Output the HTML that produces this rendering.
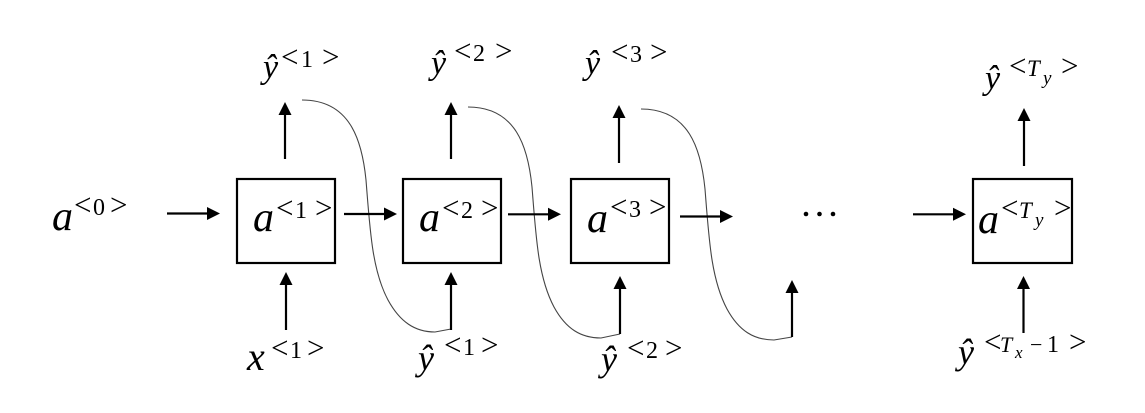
<!DOCTYPE html>
<html>
<head>
<meta charset="utf-8">
<style>
  html, body { margin: 0; padding: 0; background: #ffffff; }
  body { width: 1145px; height: 413px; overflow: hidden; }
  svg { display: block; }
  .v { font-family: "Liberation Serif", serif; font-style: italic; fill: #000; }
  .s { font-family: "Liberation Serif", serif; font-style: normal; fill: #000; }
  .lt { font-family: "Liberation Serif", serif; font-style: normal; fill: #000; font-size: 31px; }
</style>
</head>
<body>
<svg width="1145" height="413" viewBox="0 0 1145 413" xmlns="http://www.w3.org/2000/svg">
  <rect x="0" y="0" width="1145" height="413" fill="#ffffff"/>

  <!-- Boxes -->
  <g fill="none" stroke="#000" stroke-width="2.2">
    <rect x="237" y="179" width="98" height="84"/>
    <rect x="403" y="179" width="98" height="84"/>
    <rect x="571" y="179" width="98" height="84"/>
    <rect x="973" y="179" width="99" height="84"/>
  </g>

  <!-- Curves -->
  <g fill="none" stroke="#444" stroke-width="1.1">
    <path d="M302,100 C350,100 362,140 366,180 C370,230 372,270 388,300 C400,322 415,332 435,332 L451,329"/>
    <path d="M468,107 C516,107 528,147 532,187 C536,237 538,277 554,307 C566,329 581,338 601,338 L620,334"/>
    <path d="M641,109 C689,109 701,149 705,189 C709,239 711,279 727,309 C739,331 754,340 774,340 L792,337"/>
  </g>

  <!-- Arrow lines -->
  <g stroke="#000" stroke-width="2.2" fill="none">
    <line x1="167" y1="213.5" x2="209" y2="213.5"/>
    <line x1="344" y1="214" x2="386" y2="214"/>
    <line x1="508" y1="214.3" x2="550" y2="214.3"/>
    <line x1="680" y1="216.5" x2="722" y2="216.5"/>
    <line x1="913" y1="214.3" x2="955" y2="214.3"/>
    <line x1="285" y1="159" x2="285" y2="113"/>
    <line x1="451" y1="159" x2="451" y2="113"/>
    <line x1="619" y1="163" x2="619" y2="116"/>
    <line x1="1024" y1="166" x2="1024" y2="119"/>
    <line x1="286" y1="330" x2="286" y2="283"/>
    <line x1="451" y1="330" x2="451" y2="283"/>
    <line x1="620" y1="334" x2="620" y2="287"/>
    <line x1="792" y1="337" x2="792" y2="291"/>
    <line x1="1023.5" y1="333" x2="1023.5" y2="287"/>
  </g>

  <!-- Arrowheads -->
  <g fill="#000">
    <polygon points="220,213.5 207,207 207,220"/>
    <polygon points="397,214 384,207.5 384,220.5"/>
    <polygon points="561,214.3 548,207.8 548,220.8"/>
    <polygon points="733,216.5 720,210 720,223"/>
    <polygon points="966,214.3 953,207.8 953,220.8"/>

    <polygon points="285,102 278.5,115 291.5,115"/>
    <polygon points="451,102 444.5,115 457.5,115"/>
    <polygon points="619,105 612.5,118 625.5,118"/>
    <polygon points="1024,108 1017.5,121 1030.5,121"/>

    <polygon points="286,272 279.5,285 292.5,285"/>
    <polygon points="451,272 444.5,285 457.5,285"/>
    <polygon points="620,276 613.5,289 626.5,289"/>
    <polygon points="792,280 785.5,293 798.5,293"/>
    <polygon points="1023.5,276 1017,289 1030,289"/>

    <circle cx="806" cy="214" r="2.3"/>
    <circle cx="819.5" cy="214" r="2.3"/>
    <circle cx="833" cy="214" r="2.3"/>
  </g>

  <!-- a<0> -->
  <text class="v" x="52" y="230" font-size="42">a</text>
  <text class="lt" x="74" y="215">&lt;</text>
  <text class="s" x="93" y="215" font-size="24">0</text>
  <text class="lt" x="110" y="215">&gt;</text>

  <!-- box labels -->
  <text class="v" x="253" y="231" font-size="42">a</text>
  <text class="lt" x="276" y="218">&lt;</text>
  <text class="s" x="295" y="218" font-size="24">1</text>
  <text class="lt" x="315" y="218">&gt;</text>

  <text class="v" x="419" y="231" font-size="42">a</text>
  <text class="lt" x="442" y="218">&lt;</text>
  <text class="s" x="461" y="218" font-size="24">2</text>
  <text class="lt" x="481" y="218">&gt;</text>

  <text class="v" x="587" y="232" font-size="42">a</text>
  <text class="lt" x="610" y="217">&lt;</text>
  <text class="s" x="629" y="217" font-size="24">3</text>
  <text class="lt" x="649" y="217">&gt;</text>

  <text class="v" x="978" y="233" font-size="42">a</text>
  <text class="lt" x="1001" y="218">&lt;</text>
  <text class="v" x="1019" y="218" font-size="23">T</text>
  <text class="v" x="1035" y="226" font-size="19">y</text>
  <text class="lt" x="1054" y="218">&gt;</text>

  <!-- top y-hat labels -->
  <text class="v" x="263" y="78" font-size="34">ŷ</text>
  <text class="lt" x="281" y="67">&lt;</text>
  <text class="s" x="301" y="67" font-size="24">1</text>
  <text class="lt" x="322" y="67">&gt;</text>

  <text class="v" x="431" y="74" font-size="34">ŷ</text>
  <text class="lt" x="454" y="61">&lt;</text>
  <text class="s" x="473" y="61" font-size="24">2</text>
  <text class="lt" x="495" y="61">&gt;</text>

  <text class="v" x="585" y="74" font-size="34">ŷ</text>
  <text class="lt" x="611" y="62">&lt;</text>
  <text class="s" x="630" y="62" font-size="24">3</text>
  <text class="lt" x="650" y="62">&gt;</text>

  <text class="v" x="985" y="89" font-size="34">ŷ</text>
  <text class="lt" x="1009" y="76">&lt;</text>
  <text class="v" x="1027" y="76" font-size="23">T</text>
  <text class="v" x="1043" y="84" font-size="19">y</text>
  <text class="lt" x="1061" y="76">&gt;</text>

  <!-- bottom labels -->
  <text class="v" x="247" y="370" font-size="40">x</text>
  <text class="lt" x="271" y="358">&lt;</text>
  <text class="s" x="290" y="358" font-size="24">1</text>
  <text class="lt" x="307" y="358">&gt;</text>

  <text class="v" x="418" y="370" font-size="36">ŷ</text>
  <text class="lt" x="444" y="355">&lt;</text>
  <text class="s" x="463" y="355" font-size="24">1</text>
  <text class="lt" x="481" y="355">&gt;</text>

  <text class="v" x="601" y="371" font-size="36">ŷ</text>
  <text class="lt" x="627" y="358">&lt;</text>
  <text class="s" x="646" y="358" font-size="24">2</text>
  <text class="lt" x="665" y="358">&gt;</text>

  <text class="v" x="958" y="364" font-size="36">ŷ</text>
  <text class="lt" x="984" y="352">&lt;</text>
  <text class="v" x="1000" y="352" font-size="22">T</text>
  <text class="v" x="1015" y="358" font-size="17">x</text>
  <text class="s" x="1030" y="352" font-size="22">−</text>
  <text class="s" x="1047" y="352" font-size="24">1</text>
  <text class="lt" x="1069" y="352">&gt;</text>
</svg>
</body>
</html>
